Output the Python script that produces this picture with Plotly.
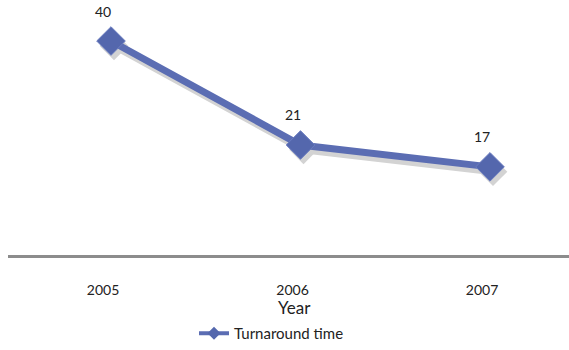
import plotly.graph_objects as go

# Turnaround time by year
years = ["2005", "2006", "2007"]
turnaround = [40, 21, 17]

W, H = 569, 350
L, R, T, B = 8, 0, 0, 89
plot_w, plot_h = W - L - R, H - T - B

# category spacing and vertical scale (pixels per unit)
cat_px = 189.5
unit_px = 5.6
x_idx = list(range(len(years)))
x_range = [-(111 - L) / cat_px, (W - R - 111) / cat_px]
y_top = 40 + (42 - T) / unit_px
y_range = [y_top - plot_h / unit_px, y_top]

# drop shadow offset (pixels -> data units)
sx, sy = 3 / cat_px, -5 / unit_px

LINE = "#5B6DB3"
MARK = "#5467AD"
SHADOW = "#d3d3d3"
FONT = "Lato"


def paper_y(px):
    """Convert a page pixel row to paper y."""
    return (T + plot_h - px) / plot_h


fig = go.Figure()
fig.add_trace(go.Scatter(
    x=[v + sx for v in x_idx], y=[v + sy for v in turnaround],
    mode="lines+markers",
    line=dict(color=SHADOW, width=7),
    marker=dict(symbol="diamond", size=22, color=SHADOW),
    showlegend=False, hoverinfo="skip",
))
fig.add_trace(go.Scatter(
    x=x_idx, y=turnaround, name="Turnaround time",
    mode="lines+markers",
    line=dict(color=LINE, width=7),
    marker=dict(symbol="diamond", size=22, color=MARK,
                line=dict(color="#6a7cc0", width=1)),
    showlegend=False,
))
# legend entry with a smaller symbol
fig.add_trace(go.Scatter(
    x=[None], y=[None], name="Turnaround time",
    mode="lines+markers",
    line=dict(color=LINE, width=4),
    marker=dict(symbol="diamond", size=10, color=MARK),
))

for xi, v in zip(x_idx, turnaround):
    fig.add_annotation(x=xi, y=v, text=str(v), showarrow=False,
                       xshift=-8, yshift=30,
                       font=dict(family=FONT, size=14, color="#222222"))

fig.add_annotation(xref="paper", yref="paper", x=(294 - L) / plot_w,
                   y=paper_y(315), yanchor="middle",
                   text="Year", showarrow=False,
                   font=dict(family=FONT, size=17, color="#222222"))

fig.update_layout(
    width=W, height=H,
    margin=dict(l=L, r=R, t=T, b=B, pad=0),
    paper_bgcolor="white", plot_bgcolor="white",
    font=dict(family=FONT, size=14, color="#222222"),
    showlegend=True,
    legend=dict(orientation="h", x=(194 - L) / plot_w, xanchor="left",
                y=paper_y(342), yanchor="middle",
                bgcolor="rgba(0,0,0,0)", font=dict(family=FONT, size=15)),
    xaxis=dict(range=x_range, tickvals=x_idx, ticktext=years,
               showgrid=False, zeroline=False, showline=True,
               linecolor="#8c8c8c", linewidth=2.5, ticks="",
               ticklabelshift=-8, ticklabelstandoff=20,
               tickfont=dict(family=FONT, size=14, color="#222222")),
    yaxis=dict(range=y_range, visible=False, showgrid=False, zeroline=False),
)

fig.write_html("out.html")
